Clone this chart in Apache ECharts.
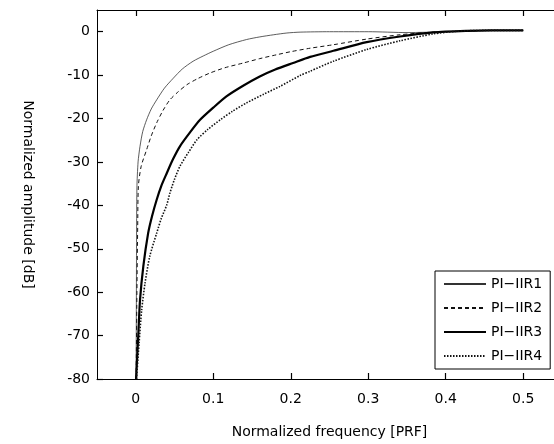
<!DOCTYPE html>
<html>
<head>
<meta charset="utf-8">
<script src="https://cdn.jsdelivr.net/npm/echarts@6/dist/echarts.min.js"></script>
<style>
  html, body { margin: 0; padding: 0; background: #fff; }
  #chart { width: 554px; height: 444px; }
</style>
</head>
<body>
<div id="chart"></div>
<script>
  // normalized frequency [PRF] vs amplitude [dB]
  var freq1 = [0.0005, 0.001, 0.0015, 0.003, 0.0055, 0.009, 0.014, 0.02, 0.027, 0.037, 0.0485, 0.06, 0.074, 0.087, 0.1, 0.12, 0.143, 0.16, 0.178, 0.195, 0.212, 0.25, 0.3, 0.35, 0.4, 0.45, 0.5]
  var amp1 = [-80, -50, -36, -30, -26.4, -23, -20.3, -17.8, -15.7, -13, -10.7, -8.6, -6.8, -5.6, -4.5, -3, -1.8, -1.2, -0.7, -0.3, -0.1, 0, 0, -0.2, 0, 0.3, 0.3]

  var freq2 = [0.0005, 0.0015, 0.0025, 0.0034, 0.007, 0.014, 0.02, 0.027, 0.035, 0.044, 0.055, 0.066, 0.08, 0.096, 0.115, 0.139, 0.16, 0.182, 0.2, 0.225, 0.255, 0.298, 0.341, 0.384, 0.42, 0.46, 0.5]
  var amp2 = [-80, -60, -45, -35.6, -31, -27.2, -24, -21, -18.2, -15.7, -13.8, -12.2, -10.8, -9.5, -8.3, -7.2, -6.2, -5.3, -4.6, -3.8, -3.0, -1.7, -0.7, -0.1, 0.1, 0.3, 0.3]

  var freq3 = [0.0004, 0.0034, 0.0055, 0.0098, 0.016, 0.021, 0.027, 0.033, 0.04, 0.048, 0.057, 0.07, 0.083, 0.1, 0.117, 0.138, 0.16, 0.18, 0.203, 0.225, 0.255, 0.298, 0.341, 0.384, 0.427, 0.46, 0.5]
  var amp3 = [-80, -69.4, -61.8, -54, -46.4, -42.5, -38.7, -35.5, -32.6, -29.4, -26.4, -23.2, -20.3, -17.5, -14.9, -12.5, -10.3, -8.7, -7.2, -5.8, -4.4, -2.4, -1.1, -0.15, 0.2, 0.3, 0.3]

  var freq4 = [0.001, 0.0043, 0.0077, 0.012, 0.018, 0.027, 0.033, 0.04, 0.044, 0.05, 0.057, 0.068, 0.079, 0.093, 0.109, 0.125, 0.143, 0.165, 0.186, 0.212, 0.225, 0.255, 0.298, 0.341, 0.384, 0.414, 0.45, 0.5]
  var amp4 = [-80, -71.7, -64, -57.9, -51.8, -46.4, -43, -39.9, -37.2, -34, -31, -27.8, -24.9, -22.5, -20.3, -18.3, -16.4, -14.4, -12.6, -10.1, -9.1, -6.8, -4.1, -2.1, -0.5, 0.1, 0.3, 0.3]

  var names = ['PI\u2212IIR1', 'PI\u2212IIR2', 'PI\u2212IIR3', 'PI\u2212IIR4']
  var xTicks = [0, 0.1, 0.2, 0.3, 0.4, 0.5]
  var yTicks = [-80, -70, -60, -50, -40, -30, -20, -10, 0]

  function pairs(xs, ys) {
    return xs.map(function (x, i) { return [x, ys[i]] })
  }

  var font = 'DejaVu Sans'
  var chart = echarts.init(document.getElementById('chart'))

  function line(name, xs, ys, style) {
    return {
      name: name,
      type: 'line',
      data: pairs(xs, ys),
      symbol: 'none',
      smooth: 0.25,
      lineStyle: style,
      itemStyle: { color: style.color },
      z: 3
    }
  }

  // MATLAB-like inward ticks
  function ticks(values) {
    return { show: true, inside: true, length: 6, customValues: values, lineStyle: { color: '#000', width: 1.2 } }
  }

  chart.setOption({
    animation: false,
    backgroundColor: '#fff',
    textStyle: { fontFamily: font, color: '#000' },
    // the right edge of the box lies past the picture, as in the scan
    grid: {
      left: 97,
      top: 10,
      width: 465,
      bottom: 65,
      outerBoundsMode: 'none',
      containLabel: false,
      show: false
    },
    legend: {
      orient: 'vertical',
      left: 435,
      top: 271,
      itemWidth: 42,
      itemHeight: 14,
      itemGap: 10,
      padding: [6, 8, 6, 8],
      borderColor: '#000',
      borderWidth: 1,
      borderRadius: 0,
      backgroundColor: '#fff',
      itemStyle: { opacity: 0 },
      textStyle: { fontFamily: font, fontSize: 14, color: '#000' },
      data: names
    },
    xAxis: [{
      type: 'value',
      min: -0.05,
      max: 0.55,
      name: 'Normalized frequency [PRF]',
      nameLocation: 'middle',
      nameGap: 46,
      nameTextStyle: { fontFamily: font, fontSize: 14, color: '#000' },
      axisLine: { show: true, onZero: false, lineStyle: { color: '#000' } },
      axisTick: ticks(xTicks),
      axisLabel: { customValues: xTicks, fontFamily: font, fontSize: 14, color: '#000', margin: 13 },
      splitLine: { show: false }
    }, {
      type: 'value',
      position: 'top',
      min: -0.05,
      max: 0.55,
      axisLine: { show: true, onZero: false, lineStyle: { color: '#000' } },
      axisTick: ticks(xTicks),
      axisLabel: { show: false, customValues: xTicks },
      splitLine: { show: false }
    }],
    yAxis: [{
      type: 'value',
      min: -80,
      max: 5,
      name: 'Normalized amplitude [dB]',
      nameLocation: 'middle',
      nameRotate: -90,
      nameGap: 62,
      nameTextStyle: { fontFamily: font, fontSize: 14, color: '#000' },
      axisLine: { show: true, onZero: false, lineStyle: { color: '#000' } },
      axisTick: ticks(yTicks),
      axisLabel: { customValues: yTicks, fontFamily: font, fontSize: 14, color: '#000', margin: 7 },
      splitLine: { show: false }
    }, {
      type: 'value',
      position: 'right',
      min: -80,
      max: 5,
      axisLine: { show: true, onZero: false, lineStyle: { color: '#000' } },
      axisTick: ticks(yTicks),
      axisLabel: { show: false, customValues: yTicks },
      splitLine: { show: false }
    }],
    series: [
      line(names[0], freq1, amp1, { color: '#333', width: 0.8, type: 'solid' }),
      line(names[1], freq2, amp2, { color: '#111', width: 1, type: [4, 3] }),
      line(names[2], freq3, amp3, { color: '#000', width: 2.2, type: 'solid' }),
      line(names[3], freq4, amp4, { color: '#111', width: 1.6, type: [1.5, 1.5] })
    ]
  })
</script>
</body>
</html>
